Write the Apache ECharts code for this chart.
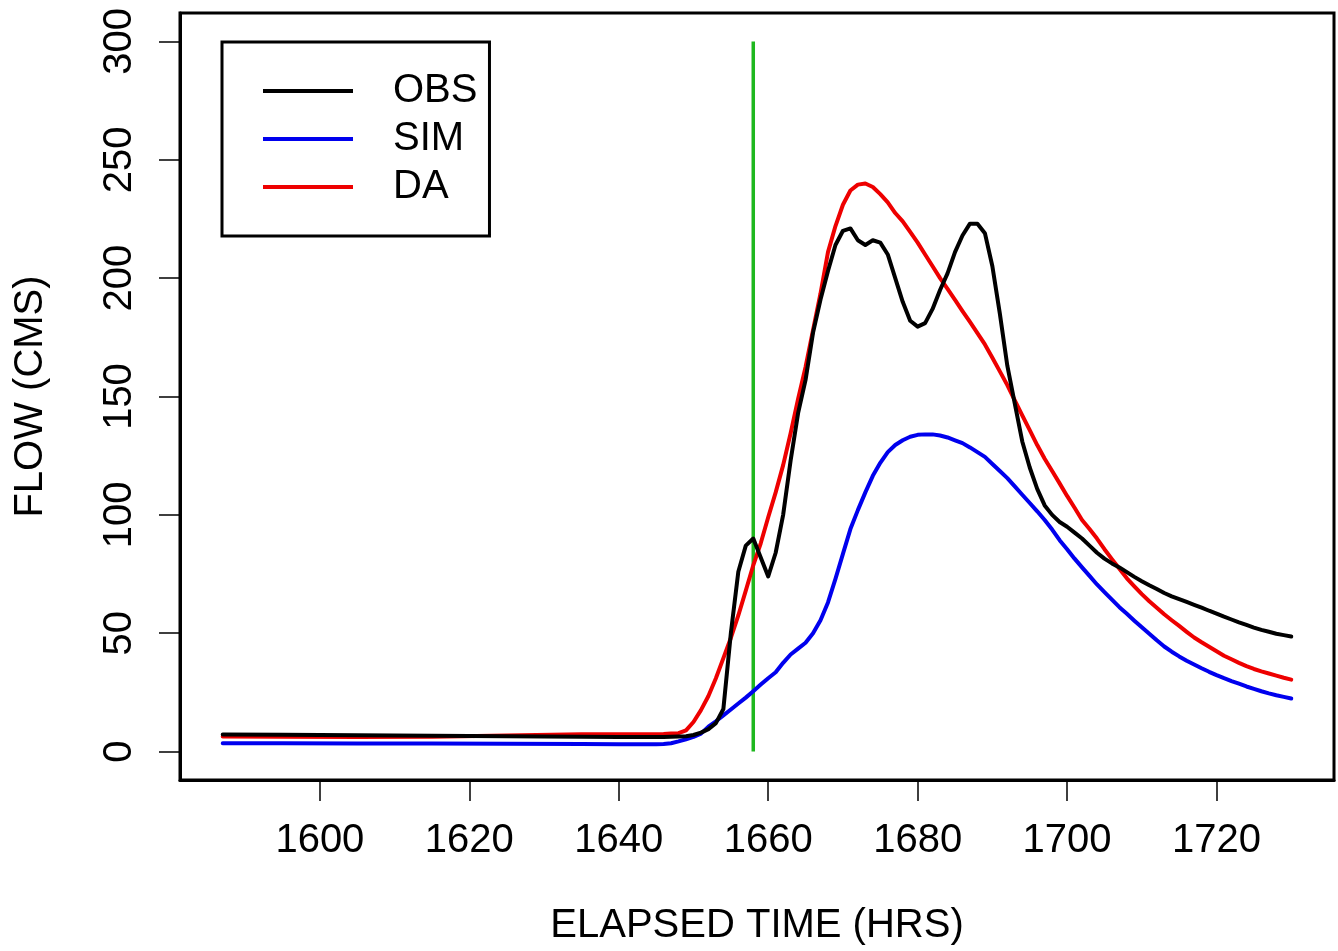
<!DOCTYPE html>
<html>
<head>
<meta charset="utf-8">
<script src="https://cdn.jsdelivr.net/npm/echarts@6/dist/echarts.min.js"></script>
<style>html,body{margin:0;padding:0;background:#fff;}#chart{width:1338px;height:951px;}</style>
</head>
<body>
<div id="chart"></div>
<script>
// ---- data ----
const hours = [1587,1595,1605,1615,1625,1635,1640,1644,
  1645,1646,1647,1648,1649,1650,1651,1652,1653,1654,1655,1656,1657,1658,1659,1660,
  1661,1662,1663,1664,1665,1666,1667,1668,1669,1670,1671,1672,1673,1674,1675,1676,
  1677,1678,1679,1680,1681,1682,1683,1684,1685,1686,1687,1688,1689,1690,1691,1692,
  1693,1694,1695,1696,1697,1698,1699,1700,1701,1702,1703,1704,1705,1706,1707,1708,
  1709,1710,1711,1712,1713,1714,1715,1716,1717,1718,1719,1720,1721,1722,1723,1724,
  1725,1726,1727,1728,1729,1730];
const obs = [7.2,7.1,6.9,6.7,6.5,6.3,6.2,6.2,
  6.2,6.2,6.3,6.4,6.5,7,8,9.5,12,18,50,76,87,90,82,74,
  84,100,123,143,157,177,191,203,214,220,221,216,214,216,215,210,
  200,190,182,179.5,181,187,195,202,211,218,223,223,219,205,185,163,
  147,131,120,111,104,100,97,95,92.5,90,87,84,81.5,79.5,77.8,75.8,
  73.8,72,70.3,68.7,67,65.6,64.4,63.2,62,60.8,59.5,58.3,57,55.8,54.6,53.5,
  52.4,51.4,50.6,49.8,49.2,48.6];
const sim = [3.5,3.5,3.4,3.4,3.3,3.2,3.1,3.1,
  3.1,3.2,3.5,4.3,5.2,6.2,7.6,10.5,12.8,15.3,17.8,20.3,22.8,25.5,28.3,31,
  33.5,37.5,41,43.5,46,50,55.5,63,73,83.5,94,102,109.5,116.5,122,126.5,
  129.5,131.5,133,133.8,134,134,133.5,132.7,131.5,130.3,128.5,126.5,124.5,121.5,118.5,115.5,
  112,108.5,105,101.5,97.8,93.8,89.3,85.5,81.5,77.8,74.2,70.6,67.4,64.2,61,58.2,
  55.3,52.5,49.8,47,44.4,42.2,40.2,38.4,36.8,35.2,33.7,32.3,31,29.8,28.7,27.5,
  26.5,25.5,24.6,23.8,23.1,22.4];
const da = [6.4,6.3,6.2,6.3,6.8,7.3,7.3,7.3,
  7.3,7.4,7.6,7.8,9,12.5,17.5,23.5,31,39.5,48,57.5,68,78.7,88,99,
  109.5,121,134.5,149,162.5,178,193.5,211,222,231,237,239.5,240,238.5,235.5,232,
  227.5,224,219.5,215,210,205,200,195.5,190.8,186.1,181.5,176.8,172,166.4,160.6,154.8,
  148.4,142,135.8,129.5,123.7,118.5,113.3,108,103,97.8,94,90,85.5,81.3,77.2,73.2,
  69.8,66.5,63.5,60.8,58,55.5,53.1,50.6,48.2,46.2,44.3,42.4,40.5,39,37.5,36.1,
  34.9,33.9,33,32.1,31.2,30.4];
const markerHour = 1658;
const markerRange = [0, 300];
const xTicks = [1600,1620,1640,1660,1680,1700,1720];
const yTicks = [0,50,100,150,200,250,300];
const seriesNames = ['OBS','SIM','DA'];
const seriesColors = ['#000000','#0000ee','#ee0000'];

// ---- chart ----
const FONT = 'Liberation Sans, Arial, Helvetica, sans-serif';
const chart = echarts.init(document.getElementById('chart'), null, {renderer:'canvas'});
const pairs = vals => hours.map((h,i)=>[h, vals[i]]);
const lineSeries = [obs, sim, da].map((vals, k) => ({
  name: seriesNames[k], type: 'line', data: pairs(vals), showSymbol: false, symbol: 'none',
  lineStyle: {color: seriesColors[k], width: 4, join: 'round', cap: 'round'}, itemStyle: {color: seriesColors[k]},
  animation: false, z: 3 + (k === 0 ? 2 : 0)
}));
lineSeries.push({
  name: 'marker', type: 'line', data: markerRange.map(v => [markerHour, v]), showSymbol: false, symbol: 'none',
  lineStyle: {color: '#1fb81f', width: 3.5}, animation: false, z: 2
});
chart.setOption({
  backgroundColor: '#fff',
  animation: false,
  textStyle: {fontFamily: FONT},
  grid: {left: 180, top: 13, right: 4, bottom: 170, show: true, borderColor: '#000', borderWidth: 3, containLabel: false},
  legend: {
    data: seriesNames, orient: 'vertical', left: 222, top: 42,
    icon: 'rect', itemWidth: 90, itemHeight: 4, itemGap: 8,
    padding: [29, 12, 29, 41], borderColor: '#000', borderWidth: 3, backgroundColor: '#fff',
    textStyle: {fontSize: 40, color: '#000', fontFamily: FONT, lineHeight: 40, padding: [0,0,0,35]},
    selectedMode: false
  },
  xAxis: {
    type: 'value', min: 1581.28, max: 1735.72,
    name: 'ELAPSED TIME (HRS)', nameLocation: 'middle', nameGap: 126,
    nameTextStyle: {fontSize: 40, color: '#000', fontFamily: FONT},
    axisLine: {show: true, onZero: false, lineStyle: {color: '#000', width: 3}},
    axisTick: {show: true, inside: false, length: 21, customValues: xTicks, lineStyle: {color: '#000', width: 1.5}},
    axisLabel: {customValues: xTicks, fontSize: 40, color: '#000', margin: 41, fontFamily: FONT,
      formatter: v => String(v)},
    splitLine: {show: false}
  },
  yAxis: {
    type: 'value', min: -12, max: 312,
    name: 'FLOW (CMS)', nameLocation: 'middle', nameGap: 129, nameRotate: 90,
    nameTextStyle: {fontSize: 40, color: '#000', fontFamily: FONT},
    axisLine: {show: true, onZero: false, lineStyle: {color: '#000', width: 3}},
    axisTick: {show: true, inside: false, length: 21, customValues: yTicks, lineStyle: {color: '#000', width: 1.5}},
    axisLabel: {customValues: yTicks, fontSize: 40, color: '#000', margin: 40, rotate: 90, fontFamily: FONT,
      formatter: v => String(v)},
    splitLine: {show: false}
  },
  series: lineSeries
});
</script>
</body>
</html>
